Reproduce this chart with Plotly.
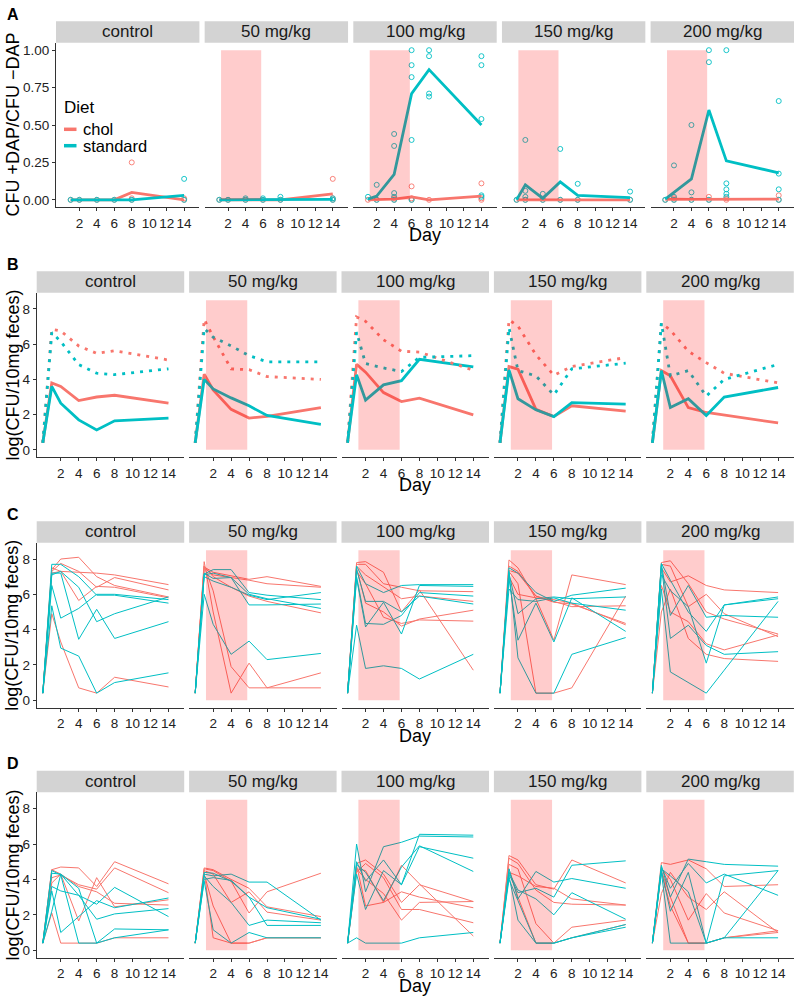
import plotly.graph_objects as go

W, H = 798, 999
RED, CYAN = "#F8766D", "#00BFC4"
SHADE = "rgba(255,0,0,0.2)"
FONT = "Liberation Sans, Arial, sans-serif"

doses = ["control", "50 mg/kg", "100 mg/kg", "150 mg/kg", "200 mg/kg"]
days = [0, 1, 2, 4, 6, 8, 14]
days_a = [1, 2, 4, 6, 8, 14]
day_ticks = [2, 4, 6, 8, 10, 12, 14]

# ---- panel A: CFU +DAP / CFU -DAP (mean lines + single mice) ----
ratio_chol = {
    "control": [0, 0, 0, 0, 0.05, 0],
    "50 mg/kg": [0, 0, 0, 0, 0, 0.04],
    "100 mg/kg": [0, 0, 0.005, 0.02, 0, 0.025],
    "150 mg/kg": [0, 0, 0, 0, 0, 0],
    "200 mg/kg": [0.003, 0.005, 0.003, 0.003, 0.005, 0.005],
}
ratio_std = {
    "control": [0, 0, 0, 0, 0, 0.03],
    "50 mg/kg": [0, 0, 0.002, 0.004, 0.005, 0.003],
    "100 mg/kg": [0.005, 0.025, 0.17, 0.71, 0.87, 0.50],
    "150 mg/kg": [0, 0.10, 0.01, 0.12, 0.03, 0.015],
    "200 mg/kg": [0.005, 0.05, 0.14, 0.60, 0.26, 0.18],
}
pts_chol = {
    "control": [[0], [0], [0], [0], [0, 0.01, 0.25], [0, 0.01]],
    "50 mg/kg": [[0], [0], [0], [0], [0], [0, 0.01, 0.14]],
    "100 mg/kg": [[0], [0], [0, 0.01], [0, 0.01, 0.09], [0], [0, 0.01, 0.11]],
    "150 mg/kg": [[0], [0], [0], [0], [0], [0]],
    "200 mg/kg": [[0], [0, 0.01], [0], [0, 0.02], [0, 0.01], [0, 0.03]],
}
pts_std = {
    "control": [[0], [0], [0], [0], [0], [0, 0.14]],
    "50 mg/kg": [[0], [0], [0, 0.01], [0, 0.01], [0, 0.02], [0, 0.01]],
    "100 mg/kg": [[0.02], [0, 0.10], [0, 0.02, 0.045, 0.36, 0.44],
                  [0, 0.40, 0.82, 0.90, 1.0], [0.69, 0.71, 0.96, 1.0],
                  [0.02, 0.03, 0.54, 0.90, 0.96]],
    "150 mg/kg": [[0], [0, 0.02, 0.06, 0.40], [0, 0.04], [0, 0.34], [0, 0.107], [0, 0.055]],
    "200 mg/kg": [[0], [0, 0.02, 0.23], [0, 0.05, 0.50], [0, 0.92, 1.0],
                  [0.02, 0.04, 0.07, 0.11, 1.0], [0, 0.07, 0.175, 0.66]],
}

# ---- panel B: group means, solid = +DAP, dotted = -DAP ----
b_pos_chol = {
    "control": [0.4, 3.8, 3.6, 2.8, 3.0, 3.1, 2.65],
    "50 mg/kg": [0.4, 4.3, 3.4, 2.3, 1.8, 1.9, 2.4],
    "100 mg/kg": [0.4, 4.86, 4.41, 3.25, 2.74, 2.93, 1.99],
    "150 mg/kg": [0.4, 4.73, 4.58, 2.3, 1.89, 2.5, 2.2],
    "200 mg/kg": [0.4, 4.5, 4.2, 2.4, 2.12, 1.97, 1.53],
}
b_pos_std = {
    "control": [0.4, 3.6, 2.65, 1.7, 1.13, 1.65, 1.8],
    "50 mg/kg": [0.4, 4.0, 3.46, 2.95, 2.5, 1.95, 1.45],
    "100 mg/kg": [0.47, 4.26, 2.82, 3.69, 3.93, 5.14, 4.71],
    "150 mg/kg": [0.4, 4.54, 2.9, 2.27, 1.89, 2.68, 2.6],
    "200 mg/kg": [0.4, 4.5, 2.4, 2.9, 1.95, 3.0, 3.54],
}
b_neg_chol = {
    "control": [0.4, 6.85, 6.75, 5.9, 5.48, 5.63, 5.1],
    "50 mg/kg": [0.4, 7.41, 6.43, 4.6, 4.55, 4.16, 4.0],
    "100 mg/kg": [0.4, 7.55, 7.3, 6.25, 5.6, 5.55, 4.52],
    "150 mg/kg": [0.4, 7.38, 7.03, 5.4, 4.24, 4.73, 5.24],
    "200 mg/kg": [0.4, 7.2, 6.8, 5.6, 4.95, 4.35, 3.8],
}
b_neg_std = {
    "control": [0.4, 6.66, 6.15, 4.84, 4.35, 4.27, 4.6],
    "50 mg/kg": [0.4, 6.9, 6.4, 5.9, 5.35, 5.0, 5.0],
    "100 mg/kg": [0.4, 6.68, 4.9, 4.65, 4.45, 5.25, 5.35],
    "150 mg/kg": [0.4, 6.94, 4.5, 4.2, 3.12, 4.6, 4.92],
    "200 mg/kg": [0.4, 7.2, 4.2, 4.5, 3.05, 4.0, 4.85],
}

# ---- panel C: single mice, -DAP ----
c_chol = {
    "control": [[0.4, 7.4, 8.0, 8.1, 7.0, 6.5, 5.85],
                [0.4, 7.3, 7.75, 7.3, 6.4, 6.95, 6.25],
                [0.4, 7.5, 7.3, 7.25, 7.2, 7.1, 6.55],
                [0.4, 7.2, 7.3, 5.65, 6.45, 6.4, 5.8],
                [0.4, 4.9, 3.3, 0.7, 0.4, 1.3, 0.75]],
    "50 mg/kg": [[0.4, 7.55, 7.25, 7.05, 6.85, 7.0, 6.45],
                 [0.4, 7.5, 7.1, 6.95, 6.8, 6.6, 6.4],
                 [0.4, 7.6, 7.0, 6.4, 5.9, 5.6, 4.95],
                 [0.4, 7.85, 5.0, 0.4, 2.1, 0.7, 1.55],
                 [0.4, 7.6, 6.2, 1.9, 0.7, 0.7, 0.7]],
    "100 mg/kg": [[0.4, 7.8, 7.85, 7.25, 5.0, 6.25, 1.7],
                  [0.4, 7.7, 7.7, 6.6, 6.4, 6.2, 6.15],
                  [0.4, 7.6, 7.1, 6.4, 5.75, 5.9, 5.6],
                  [0.4, 7.5, 5.5, 5.0, 4.2, 4.6, 5.1],
                  [0.4, 7.3, 6.6, 4.7, 4.35, 4.55, 4.48]],
    "150 mg/kg": [[0.4, 7.95, 7.5, 5.75, 3.4, 7.1, 6.55],
                  [0.4, 7.6, 7.3, 5.9, 5.55, 5.45, 4.35],
                  [0.4, 7.35, 7.2, 5.9, 5.6, 5.3, 5.35],
                  [0.4, 7.3, 6.6, 0.4, 0.4, 0.7, 5.9],
                  [0.4, 7.0, 6.0, 5.8, 5.7, 5.5, 4.27]],
    "200 mg/kg": [[0.4, 7.5, 6.7, 7.05, 6.5, 6.25, 6.1],
                  [0.4, 7.8, 7.9, 6.6, 5.0, 4.6, 3.75],
                  [0.4, 7.7, 7.6, 5.3, 6.0, 4.9, 3.6],
                  [0.4, 6.5, 5.0, 4.45, 3.2, 2.85, 3.7],
                  [0.4, 5.0, 6.3, 3.5, 2.6, 2.36, 2.2]],
}
c_std = {
    "control": [[0.4, 7.7, 7.7, 7.0, 5.95, 5.95, 5.5],
                [0.4, 7.1, 7.3, 6.4, 4.45, 4.9, 5.85],
                [0.4, 7.2, 7.2, 3.45, 5.15, 3.5, 4.45],
                [0.4, 6.5, 4.65, 5.2, 6.0, 6.0, 5.7],
                [0.4, 5.35, 2.95, 2.5, 0.4, 1.0, 1.55]],
    "50 mg/kg": [[0.4, 7.15, 7.4, 7.4, 6.1, 5.95, 5.7],
                 [0.4, 7.0, 6.75, 6.4, 5.95, 5.7, 6.1],
                 [0.4, 7.1, 7.2, 6.95, 5.4, 5.4, 5.45],
                 [0.4, 7.2, 6.9, 6.95, 6.0, 5.75, 5.2],
                 [0.4, 6.0, 4.3, 2.6, 3.35, 2.3, 2.65]],
    "100 mg/kg": [[0.4, 7.6, 6.6, 6.1, 6.5, 6.55, 6.55],
                  [0.4, 6.9, 4.15, 5.55, 3.75, 6.5, 6.45],
                  [0.4, 7.0, 4.35, 4.3, 4.8, 6.1, 5.9],
                  [0.4, 7.4, 5.6, 5.6, 5.0, 5.9, 5.45],
                  [0.4, 4.25, 1.8, 1.95, 1.8, 1.2, 2.6]],
    "150 mg/kg": [[0.4, 7.5, 7.2, 6.1, 5.6, 5.95, 6.35],
                  [0.4, 7.2, 4.9, 5.75, 5.85, 5.75, 5.85],
                  [0.4, 6.9, 3.4, 5.5, 3.3, 5.8, 3.9],
                  [0.4, 7.3, 2.4, 0.4, 0.4, 2.6, 3.55],
                  [0.4, 6.3, 5.7, 5.6, 5.8, 5.5, 5.1]],
    "200 mg/kg": [[0.4, 7.75, 6.8, 5.0, 3.9, 5.4, 5.75],
                  [0.4, 7.7, 4.8, 6.5, 4.7, 4.8, 4.7],
                  [0.4, 7.6, 3.5, 4.25, 3.1, 2.6, 2.75],
                  [0.4, 6.3, 1.6, 1.0, 0.4, 1.7, 5.6],
                  [0.4, 7.1, 6.2, 5.3, 2.1, 5.4, 5.85]],
}

# ---- panel D: single mice, +DAP ----
d_chol = {
    "control": [[0.4, 4.55, 4.7, 4.65, 3.6, 5.0, 3.75],
                [0.4, 4.1, 4.25, 3.7, 3.45, 4.65, 3.25],
                [0.4, 3.8, 4.3, 3.6, 3.3, 2.65, 2.55],
                [0.4, 4.55, 4.3, 1.65, 4.1, 2.45, 2.85],
                [0.4, 2.1, 0.4, 0.4, 0.4, 0.7, 0.7]],
    "50 mg/kg": [[0.4, 4.6, 4.5, 3.9, 2.1, 3.3, 4.35],
                 [0.4, 4.65, 4.55, 4.0, 3.5, 2.45, 1.9],
                 [0.4, 4.5, 4.3, 2.7, 3.3, 2.15, 1.7],
                 [0.4, 4.4, 0.7, 0.4, 0.4, 0.7, 0.7],
                 [0.4, 4.3, 2.5, 0.4, 0.4, 0.7, 0.7]],
    "100 mg/kg": [[0.4, 4.9, 5.1, 4.3, 2.7, 3.7, 2.75],
                  [0.4, 4.8, 2.5, 2.7, 4.8, 3.75, 0.8],
                  [0.4, 4.6, 4.5, 2.7, 3.3, 3.0, 2.4],
                  [0.4, 4.4, 4.9, 4.1, 2.3, 2.3, 1.55],
                  [0.4, 4.6, 4.0, 3.2, 1.7, 2.7, 2.75]],
    "150 mg/kg": [[0.4, 5.35, 5.1, 3.7, 3.45, 5.1, 3.8],
                  [0.4, 5.2, 4.9, 3.4, 2.7, 2.6, 2.55],
                  [0.4, 4.85, 4.6, 1.5, 0.4, 1.3, 1.7],
                  [0.4, 4.6, 3.0, 0.4, 0.4, 0.7, 1.45],
                  [0.4, 4.4, 4.2, 3.6, 3.5, 2.9, 2.55]],
    "200 mg/kg": [[0.4, 4.95, 4.85, 5.1, 4.6, 3.6, 3.7],
                  [0.4, 4.6, 4.0, 1.7, 3.2, 2.1, 1.1],
                  [0.4, 4.5, 3.0, 0.4, 0.4, 0.7, 1.0],
                  [0.4, 3.2, 4.4, 3.0, 2.3, 3.3, 1.0],
                  [0.4, 4.4, 2.5, 0.4, 0.4, 0.7, 1.1]],
}
d_std = {
    "control": [[0.4, 4.5, 4.25, 0.4, 0.4, 0.7, 1.15],
                [0.4, 4.35, 4.3, 3.1, 1.75, 2.05, 2.35],
                [0.4, 3.6, 3.35, 3.1, 2.6, 3.55, 1.9],
                [0.4, 3.35, 1.0, 1.9, 2.8, 2.4, 2.95],
                [0.4, 2.2, 4.3, 3.5, 0.4, 1.2, 1.15]],
    "50 mg/kg": [[0.4, 4.3, 4.2, 4.3, 3.85, 3.85, 1.7],
                 [0.4, 4.0, 4.1, 3.95, 3.0, 2.4, 1.75],
                 [0.4, 4.2, 3.6, 2.7, 1.4, 1.7, 1.55],
                 [0.4, 3.9, 1.15, 0.4, 1.0, 0.7, 0.7],
                 [0.4, 4.4, 4.35, 3.9, 3.0, 1.4, 1.4]],
    "100 mg/kg": [[0.4, 6.0, 3.3, 5.85, 6.1, 6.45, 6.4],
                  [0.4, 5.0, 3.9, 5.1, 3.7, 6.55, 6.5],
                  [0.4, 4.3, 2.3, 4.5, 3.7, 5.85, 5.2],
                  [0.4, 4.85, 4.4, 2.8, 4.7, 5.9, 4.45],
                  [0.4, 0.7, 0.4, 0.4, 0.4, 0.7, 1.0]],
    "150 mg/kg": [[0.4, 4.6, 2.9, 4.45, 3.85, 4.05, 3.5],
                  [0.4, 4.3, 3.25, 3.5, 3.0, 4.8, 5.05],
                  [0.4, 4.4, 3.4, 2.9, 2.0, 3.25, 1.75],
                  [0.4, 4.2, 1.7, 0.4, 0.4, 0.7, 1.3],
                  [0.4, 4.0, 2.8, 0.4, 0.4, 0.7, 1.45]],
    "200 mg/kg": [[0.4, 4.8, 3.0, 5.15, 5.0, 4.85, 4.75],
                  [0.4, 4.7, 3.5, 4.9, 3.8, 4.3, 3.1],
                  [0.4, 4.5, 2.2, 4.4, 0.4, 0.7, 4.5],
                  [0.4, 4.4, 0.4, 0.4, 0.4, 0.7, 0.7],
                  [0.4, 4.6, 4.2, 3.3, 0.4, 4.2, 4.5]],
}

# treatment window drawn over the dosed panels
shade_x = [1.2, 5.8]

# row geometry in pixels
rows = [
    dict(label="A", left=56.0, width=143.4, gap=5.25, top=42.7, bottom=207.3,
         yr=[-0.05, 1.05], ymax=1.0, yt=[0, 0.25, 0.5, 0.75, 1.0],
         ytt=["0.00", "0.25", "0.50", "0.75", "1.00"], title="CFU +DAP/CFU \u2212DAP"),
    dict(label="B", left=36.7, width=147.5, gap=4.9, top=292.7, bottom=457.3,
         yr=[-0.425, 8.925], ymax=8.5, yt=[0, 2, 4, 6, 8], ytt=None, title="log(CFU/10mg feces)"),
    dict(label="C", left=36.7, width=147.5, gap=4.9, top=542.7, bottom=707.7,
         yr=[-0.425, 8.925], ymax=8.5, yt=[0, 2, 4, 6, 8], ytt=None, title="log(CFU/10mg feces)"),
    dict(label="D", left=36.7, width=147.5, gap=4.9, top=792.3, bottom=957.7,
         yr=[-0.425, 8.925], ymax=8.5, yt=[0, 2, 4, 6, 8], ytt=None, title="log(CFU/10mg feces)"),
]
STRIP_H = 21.5


def aid(n):
    return "" if n == 1 else str(n)


fig = go.Figure()
layout = {}
shapes = []
annots = []


def line(n, x, y, color, width, dash="solid"):
    fig.add_trace(go.Scatter(
        x=x, y=y, mode="lines", xaxis="x" + aid(n), yaxis="y" + aid(n),
        line=dict(color=color, width=width, dash=dash),
        showlegend=False, hoverinfo="skip"))


for r, row in enumerate(rows):
    for c, dose in enumerate(doses):
        n = r * 5 + c + 1
        x0 = row["left"] + c * (row["width"] + row["gap"])
        x1 = x0 + row["width"]
        layout["xaxis" + aid(n)] = dict(
            domain=[x0 / W, x1 / W], range=[-0.68, 15.75], anchor="y" + aid(n),
            tickvals=day_ticks, ticks="outside", ticklen=3, tickwidth=1, tickcolor="#333333",
            showline=True, linecolor="#333333", linewidth=1, showgrid=False, zeroline=False,
            tickfont=dict(size=13.5, color="#222222", family=FONT))
        ya = dict(
            domain=[1 - row["bottom"] / H, 1 - row["top"] / H], range=row["yr"],
            anchor="x" + aid(n), showgrid=False, zeroline=False)
        if c == 0:
            ya.update(tickvals=row["yt"], ticks="outside", ticklen=3, tickwidth=1,
                      tickcolor="#333333", showline=True, linecolor="#333333", linewidth=1,
                      tickfont=dict(size=13.5, color="#222222", family=FONT))
            if row["ytt"]:
                ya["ticktext"] = row["ytt"]
        else:
            ya.update(showticklabels=False, showline=False, ticks="")
        layout["yaxis" + aid(n)] = ya

        # data
        if r == 0:
            for pts, col in ((pts_chol[dose], RED), (pts_std[dose], CYAN)):
                px, py = [], []
                for d, vals in zip(days_a, pts):
                    px += [d] * len(vals)
                    py += vals
                fig.add_trace(go.Scatter(
                    x=px, y=py, mode="markers", xaxis="x" + aid(n), yaxis="y" + aid(n),
                    marker=dict(symbol="circle-open", size=5, color=col, line=dict(width=0.9)),
                    showlegend=False, hoverinfo="skip"))
            line(n, days_a, ratio_chol[dose], RED, 2.8)
            line(n, days_a, ratio_std[dose], CYAN, 2.8)
        elif r == 1:
            line(n, days, b_pos_chol[dose], RED, 2.8)
            line(n, days, b_pos_std[dose], CYAN, 2.8)
            line(n, days, b_neg_chol[dose], RED, 2.8, "3px,6px")
            line(n, days, b_neg_std[dose], CYAN, 2.8, "3px,6px")
        else:
            chol = c_chol if r == 2 else d_chol
            std = c_std if r == 2 else d_std
            for mouse in chol[dose]:
                line(n, days, mouse, RED, 1)
            for mouse in std[dose]:
                line(n, days, mouse, CYAN, 1)

        if c > 0:
            shapes.append(dict(type="rect", xref="x" + aid(n), yref="y" + aid(n),
                               x0=shade_x[0], x1=shade_x[1], y0=0, y1=row["ymax"],
                               fillcolor=SHADE, line=dict(width=0), layer="above"))

        # facet strip
        st_top = row["top"] - STRIP_H
        shapes.append(dict(type="rect", xref="paper", yref="paper",
                           x0=x0 / W, x1=x1 / W, y0=1 - row["top"] / H, y1=1 - st_top / H,
                           fillcolor="#D3D3D3", line=dict(width=0), layer="below"))
        annots.append(dict(text=dose, x=(x0 + x1) / 2 / W, y=1 - (st_top + STRIP_H / 2) / H,
                           xref="paper", yref="paper", showarrow=False,
                           xanchor="center", yanchor="middle",
                           font=dict(size=17, color="#1A1A1A", family=FONT)))

    # row titles
    right = row["left"] + 5 * row["width"] + 4 * row["gap"]
    annots.append(dict(text="Day", x=(row["left"] + right) / 2 / W, y=1 - (row["bottom"] + 28) / H,
                       xref="paper", yref="paper", showarrow=False,
                       xanchor="center", yanchor="middle",
                       font=dict(size=18, color="#000000", family=FONT)))
    annots.append(dict(text=row["title"], x=12.5 / W, y=1 - (row["top"] + row["bottom"]) / 2 / H,
                       xref="paper", yref="paper", showarrow=False, textangle=-90,
                       xanchor="center", yanchor="middle",
                       font=dict(size=18, color="#000000", family=FONT)))

# panel letters
for lab, ly in zip("ABCD", [14, 264, 514, 763]):
    annots.append(dict(text="<b>%s</b>" % lab, x=13 / W, y=1 - ly / H, xref="paper", yref="paper",
                       showarrow=False, xanchor="center", yanchor="middle",
                       font=dict(size=16, color="#000000", family=FONT)))

# legend drawn inside the control panel of row A
annots.append(dict(text="Diet", x=62 / W, y=1 - 107 / H, xref="paper", yref="paper",
                   showarrow=False, xanchor="left", yanchor="middle",
                   font=dict(size=17, color="#000000", family=FONT)))
for name, col, ky in (("chol", RED, 129.3), ("standard", CYAN, 145.7)):
    shapes.append(dict(type="line", xref="paper", yref="paper",
                       x0=64 / W, x1=76.5 / W, y0=1 - ky / H, y1=1 - ky / H,
                       line=dict(color=col, width=3.5)))
    annots.append(dict(text=name, x=81 / W, y=1 - ky / H, xref="paper", yref="paper",
                       showarrow=False, xanchor="left", yanchor="middle",
                       font=dict(size=16.5, color="#000000", family=FONT)))

fig.update_layout(
    width=W, height=H, autosize=False,
    margin=dict(l=0, r=0, t=0, b=0),
    paper_bgcolor="white", plot_bgcolor="white",
    shapes=shapes, annotations=annots,
    font=dict(family=FONT),
    **layout,
)

# the page's default 8px body margin would shift the whole figure
fig.write_html("out.html", config={"displayModeBar": False, "staticPlot": True},
               post_script="document.body.style.margin='0px';")
